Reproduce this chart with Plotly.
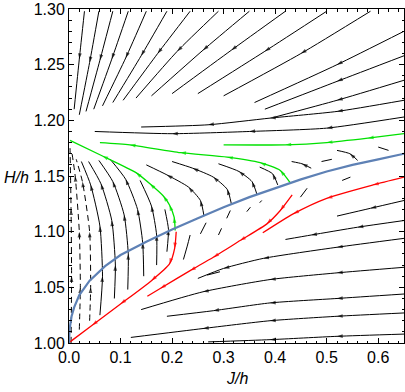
import plotly.graph_objects as go

# blue curve
blue_j = [0, 0.001, 0.005, 0.01, 0.02, 0.04, 0.07, 0.1, 0.15, 0.2, 0.25, 0.3, 0.35, 0.4, 0.45, 0.5, 0.55, 0.6, 0.65]
blue_h = [1.0, 1.012, 1.024, 1.032, 1.043, 1.056, 1.069, 1.079, 1.091, 1.102, 1.112, 1.122, 1.131, 1.139, 1.147, 1.154, 1.16, 1.165, 1.17]

# green streamlines
green_lines = [
    [(0.206, 1.101), (0.204, 1.113), (0.195, 1.124), (0.183, 1.132), (0.157, 1.143), (0.13, 1.153), (0.065, 1.168), (0.002, 1.182)],
    [(0.429, 1.144), (0.41, 1.155), (0.371, 1.162), (0.307, 1.167), (0.216, 1.171), (0.118, 1.178), (0.06, 1.18)],
    [(0.65, 1.188), (0.58, 1.184), (0.5, 1.18), (0.42, 1.178), (0.3, 1.178)],
]

# red streamlines
red_lines = [
    [(0.208, 1.10), (0.205, 1.085), (0.195, 1.071), (0.16, 1.056), (0.1, 1.035), (0.045, 1.016), (0.002, 1.001)],
    [(0.433, 1.133), (0.41, 1.119), (0.384, 1.107), (0.332, 1.092), (0.28, 1.077), (0.235, 1.065), (0.177, 1.049), (0.152, 1.042)],
    [(0.65, 1.149), (0.59, 1.142), (0.5, 1.13), (0.435, 1.116), (0.376, 1.099)],
]

# black streamlines, upper fan
top_lines = [
    [(0.03, 1.298), (0.02, 1.255), (0.01, 1.21)],
    [(0.058, 1.298), (0.04, 1.252), (0.02, 1.205)],
    [(0.085, 1.298), (0.06, 1.254), (0.033, 1.208)],
    [(0.115, 1.298), (0.083, 1.255), (0.048, 1.21)],
    [(0.15, 1.298), (0.11, 1.256), (0.065, 1.213)],
    [(0.19, 1.298), (0.14, 1.258), (0.085, 1.216)],
    [(0.235, 1.298), (0.172, 1.26), (0.105, 1.218)],
    [(0.29, 1.298), (0.21, 1.262), (0.13, 1.22)],
    [(0.35, 1.298), (0.26, 1.263), (0.16, 1.222)],
    [(0.42, 1.298), (0.315, 1.263), (0.2, 1.224)],
    [(0.5, 1.298), (0.38, 1.262), (0.25, 1.224)],
    [(0.585, 1.298), (0.45, 1.26), (0.3, 1.222)],
    [(0.65, 1.28), (0.52, 1.25), (0.36, 1.216)],
    [(0.65, 1.258), (0.52, 1.235), (0.38, 1.21)],
    [(0.65, 1.236), (0.52, 1.218), (0.4, 1.203)],
    [(0.65, 1.218), (0.52, 1.208), (0.39, 1.202), (0.27, 1.196), (0.14, 1.194)],
    [(0.65, 1.203), (0.5, 1.193), (0.35, 1.19), (0.2, 1.188), (0.05, 1.19)],
]

# arcs left of the green/red pair (dashed ones near the edge)
left_arcs = [
    [(0.004, 1.0), (0.005, 1.06), (0.004, 1.12), (0.002, 1.175)],
    [(0.02, 1.012), (0.022, 1.05), (0.02, 1.1), (0.012, 1.15), (0.006, 1.17)],
    [(0.04, 1.02), (0.042, 1.05), (0.04, 1.1), (0.026, 1.145), (0.014, 1.165)],
    [(0.06, 1.025), (0.065, 1.06), (0.06, 1.105), (0.042, 1.142), (0.024, 1.163)],
    [(0.088, 1.04), (0.09, 1.07), (0.083, 1.11), (0.062, 1.143), (0.038, 1.163)],
    [(0.114, 1.048), (0.115, 1.08), (0.107, 1.115), (0.085, 1.145), (0.058, 1.164)],
    [(0.145, 1.06), (0.143, 1.09), (0.133, 1.12), (0.11, 1.147), (0.08, 1.165)],
    [(0.17, 1.07), (0.17, 1.097), (0.16, 1.123), (0.138, 1.146)],
    [(0.19, 1.082), (0.193, 1.102), (0.186, 1.12)],
]
left_dashed = [True, True, True, False, False, False, False, False, False]

# arcs between the two green lines
mid_arcs = [
    [(0.262, 1.114), (0.255, 1.128), (0.232, 1.14), (0.19, 1.151), (0.15, 1.16)],
    [(0.315, 1.125), (0.307, 1.138), (0.28, 1.149), (0.24, 1.157), (0.2, 1.163)],
    [(0.365, 1.133), (0.355, 1.145), (0.33, 1.154), (0.29, 1.161)],
    [(0.405, 1.142), (0.395, 1.152), (0.37, 1.158)],
    [(0.47, 1.157), (0.452, 1.161), (0.432, 1.163)],
    [(0.56, 1.164), (0.545, 1.17), (0.52, 1.173)],
]

# short strokes near the blue curve
short_strokes = [
    [(0.222, 1.075), (0.23, 1.088), (0.235, 1.097)],
    [(0.255, 1.098), (0.266, 1.108)],
    [(0.29, 1.097), (0.296, 1.103)],
    [(0.306, 1.112), (0.313, 1.119)],
    [(0.345, 1.118), (0.352, 1.122)],
    [(0.37, 1.126), (0.374, 1.128)],
    [(0.268, 1.061), (0.293, 1.064)],
    [(0.449, 1.131), (0.462, 1.139)],
    [(0.53, 1.146), (0.546, 1.149)],
    [(0.49, 1.163), (0.51, 1.165)],
    [(0.6, 1.176), (0.62, 1.173)],
]

# lower family, flowing left
bottom_lines = [
    [(0.65, 1.128), (0.585, 1.121), (0.52, 1.114)],
    [(0.65, 1.11), (0.56, 1.104), (0.47, 1.097), (0.42, 1.093)],
    [(0.65, 1.094), (0.52, 1.086), (0.377, 1.076), (0.3, 1.067), (0.25, 1.058)],
    [(0.65, 1.068), (0.52, 1.063), (0.39, 1.057), (0.26, 1.046), (0.14, 1.03)],
    [(0.65, 1.044), (0.52, 1.04), (0.39, 1.036), (0.28, 1.029), (0.19, 1.024)],
    [(0.65, 1.027), (0.52, 1.024), (0.39, 1.02), (0.26, 1.013), (0.12, 1.005)],
    [(0.65, 1.008), (0.52, 1.006), (0.39, 1.003), (0.27, 1.001)],
]

fig = go.Figure()


def add_stream(pts, color, width=1.0, dash="solid", arrows=True):
    xs = [p[0] for p in pts]
    ys = [p[1] for p in pts]
    if len(pts) > 2:
        sizes = [0] + [6 if arrows else 0] * (len(pts) - 2) + [0]
    else:
        sizes = [0] * len(pts)
    fig.add_trace(go.Scatter(
        x=xs, y=ys, mode="lines+markers",
        line=dict(color=color, width=width, dash=dash, shape="spline", smoothing=0.6),
        marker=dict(symbol="arrow", angleref="previous", size=sizes, color=color, line=dict(width=0)),
        hoverinfo="skip"))


for ln in top_lines:
    add_stream(ln, "black")
for ln, d in zip(left_arcs, left_dashed):
    add_stream(ln, "black", dash="6px,4px" if d else "solid")
for ln in mid_arcs:
    add_stream(ln, "black")
for ln in short_strokes:
    add_stream(ln, "black", arrows=False)
for ln in bottom_lines:
    add_stream(ln, "black")
for ln in green_lines:
    add_stream(ln, "rgb(0,225,0)", width=1.3)
for ln in red_lines:
    add_stream(ln, "rgb(255,0,0)", width=1.3)

fig.add_trace(go.Scatter(x=blue_j, y=blue_h, mode="lines",
                         line=dict(color="rgb(94,129,181)", width=2.2),
                         hoverinfo="skip"))

font = dict(family="Liberation Sans, Arial", size=16, color="black")
axis_common = dict(showline=True, mirror="allticks", linecolor="black", linewidth=1,
                   ticks="inside", ticklen=5, tickwidth=1, tickcolor="black",
                   showgrid=False, zeroline=False, tickfont=font)

fig.update_xaxes(range=[0, 0.65], dtick=0.1, tick0=0, tickformat=".1f",
                 minor=dict(dtick=0.02, ticks="inside", ticklen=2.5, tickcolor="black"),
                 **axis_common)
fig.update_yaxes(range=[1.0, 1.3], dtick=0.05, tick0=1.0, tickformat=".2f",
                 minor=dict(dtick=0.01, ticks="inside", ticklen=2.5, tickcolor="black"),
                 **axis_common)

fig.add_annotation(text="<i>J/h</i>", xref="paper", yref="paper", x=0.5, y=-0.105,
                   showarrow=False, font=font, xanchor="center", yanchor="middle")
fig.add_annotation(text="<i>H/h</i>", xref="paper", yref="paper", x=-0.2, y=0.497,
                   showarrow=False, font=font, xanchor="left", yanchor="middle")

fig.update_layout(width=405, height=392,
                  margin=dict(l=69, r=1, t=9, b=49, autoexpand=False),
                  plot_bgcolor="white", paper_bgcolor="white", showlegend=False)

# page body margin off so the figure sits at the window origin
fig.write_html("out.html", config={"displayModeBar": False},
               post_script="document.body.style.margin='0px';")
